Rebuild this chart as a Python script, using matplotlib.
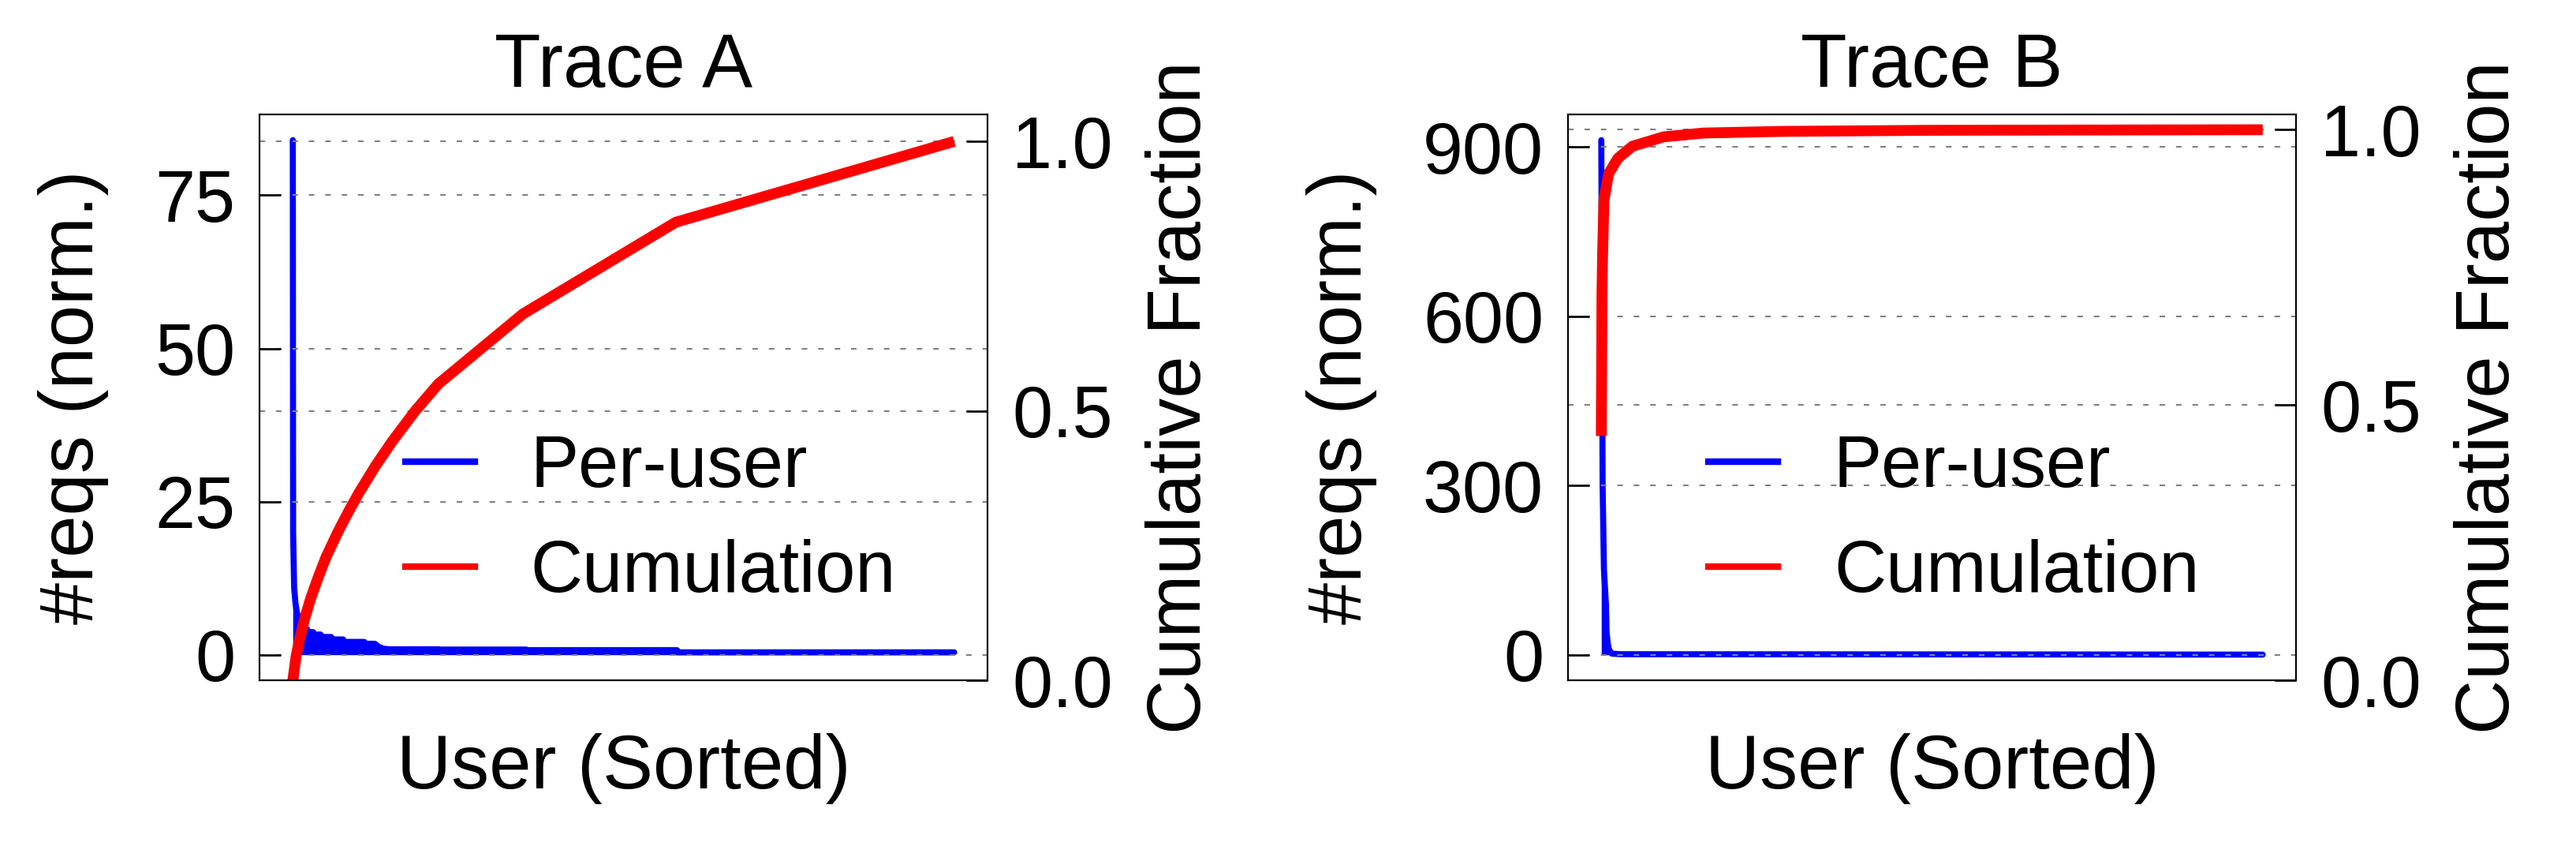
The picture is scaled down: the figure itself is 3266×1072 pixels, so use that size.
import matplotlib
matplotlib.use('Agg')
import matplotlib.pyplot as plt
from matplotlib.lines import Line2D

plt.rcParams['font.family'] = ['Liberation Sans', 'DejaVu Sans']

titles = ['Trace A', 'Trace B']
xlabel_text = 'User (Sorted)'
ylabel_left = '#reqs (norm.)'
ylabel_right = 'Cumulative Fraction'
legend_labels = ['Per-user', 'Cumulation']

# ---- Trace A (x = fraction of sorted users) ----
a_user_x = [0.0, 0.0005, 0.002, 0.004, 0.006, 0.009, 0.013, 0.017, 0.0215, 0.0215, 0.0307, 0.0307,
            0.042, 0.042, 0.058, 0.058, 0.076, 0.076, 0.108, 0.108, 0.124, 0.130, 0.137, 0.145,
            0.22, 0.22, 0.353, 0.353, 0.581, 0.581, 1.0]
a_user_y = [84.0, 20.0, 11.0, 8.5, 7.0, 5.8, 4.9, 4.4, 4.2, 3.7, 3.7, 3.3,
            3.3, 2.9, 2.9, 2.5, 2.5, 2.1, 2.1, 1.8, 1.8, 1.3, 1.0, 0.9,
            0.9, 0.85, 0.85, 0.75, 0.75, 0.4, 0.4]
a_cum_x = [0.0, 0.005, 0.010, 0.018, 0.027, 0.038, 0.050, 0.068, 0.085, 0.100, 0.125,
           0.150, 0.185, 0.220, 0.348, 0.579, 1.0]
a_cum_y = [0.0, 0.045, 0.075, 0.115, 0.152, 0.19, 0.228, 0.275, 0.315, 0.348, 0.398,
           0.443, 0.50, 0.55, 0.68, 0.85, 1.0]
a_yticks = [0, 25, 50, 75]

# ---- Trace B ----
b_user_x = [0.0, 0.002, 0.004, 0.007, 0.008, 0.010, 0.012, 0.016, 0.030, 1.0]
b_user_y = [912.0, 300.0, 150.0, 90.0, 40.0, 18.0, 8.0, 2.0, 1.0, 0.3]
b_cum_x = [0.0, 0.001, 0.002, 0.004, 0.011, 0.025, 0.047, 0.094, 0.154, 0.273, 0.5, 1.0]
b_cum_y = [0.444, 0.70, 0.777, 0.872, 0.92, 0.948, 0.97, 0.987, 0.994, 0.997, 0.999, 1.0]
b_yticks = [0, 300, 600, 900]

cum_ticks = [0.0, 0.5, 1.0]

W, H = 3266, 1072
DPI = 300
fig = plt.figure(figsize=(W / DPI, H / DPI), dpi=DPI)

panels = [
    (titles[0], a_user_x, a_user_y, a_cum_x, a_cum_y, a_yticks, 329.3, 0.200),
    (titles[1], b_user_x, b_user_y, b_cum_x, b_cum_y, b_yticks, 1988.3, 0.193),
]

FS = 22
grid_ls = (0, (3.4, 6.6))

for title, ux, uy, cx, cy, yt, left_px, leg_x in panels:
    ax = fig.add_axes([left_px / W, (H - 862.3) / H, 922.4 / W, 717.3 / H])
    ax.fill_between(ux, 0, uy, color='blue', lw=0)
    ax.plot(ux, uy, color='blue', lw=1.85, solid_capstyle='round', solid_joinstyle='round')
    ax.margins(x=0.05, y=0.05)
    ax.set_xticks([])
    ax.set_yticks(yt)
    ax.grid(axis='y', ls=grid_ls, lw=0.5, color='gray')
    ax.set_axisbelow(False)
    ax.tick_params(axis='y', direction='in', length=6.5, width=0.65, pad=7.5,
                   labelsize=FS, left=True, right=False)
    for s in ax.spines.values():
        s.set_linewidth(0.5)
        s.set_color('black')
    ax.set_title(title, fontsize=FS + 1, pad=8.5)
    ax.set_xlabel(xlabel_text, fontsize=FS + 1, labelpad=16)
    ax.set_ylabel(ylabel_left, fontsize=FS + 1, labelpad=14)

    ax2 = ax.twinx()
    ax2.plot(cx, cy, color='red', lw=3.3, solid_capstyle='butt', solid_joinstyle='round')
    ax2.set_ylim(bottom=0)
    ax2.set_yticks(cum_ticks)
    ax2.grid(axis='y', ls=grid_ls, lw=0.5, color='gray')
    ax2.tick_params(axis='y', direction='in', length=6.5, width=0.65, pad=7.5,
                    labelsize=FS, right=True, left=False)
    for s in ax2.spines.values():
        s.set_linewidth(0.5)
        s.set_color('black')
    ax2.set_ylabel(ylabel_right, fontsize=FS + 1, labelpad=10)

    handles = [Line2D([], [], color='blue', lw=2.0), Line2D([], [], color='red', lw=2.0)]
    ax2.legend(handles, legend_labels, loc='center left', bbox_to_anchor=(leg_x, 0.283),
               frameon=False, fontsize=FS, handlelength=0.96, handletextpad=0.77,
               labelspacing=0.51, borderpad=0, borderaxespad=0)

fig.savefig('out.png', dpi=DPI)
